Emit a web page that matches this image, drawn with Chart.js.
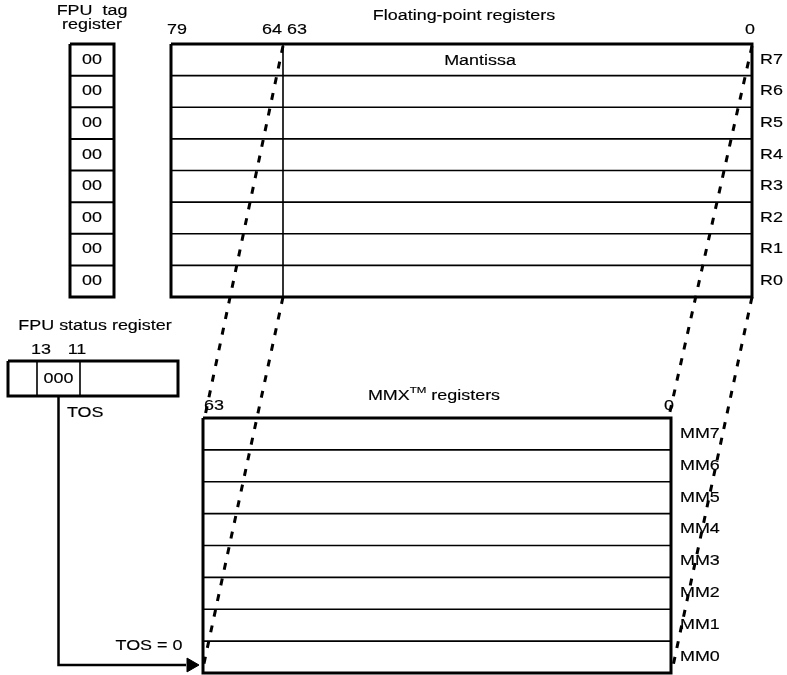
<!DOCTYPE html>
<html lang="en">
  <head>
    <meta charset="UTF-8" />
    <title>FPU / MMX register aliasing</title>
    <script src="https://cdn.jsdelivr.net/npm/chart.js"></script>
    <style>
      body {
        margin: 0;
        background: #fff;
      }
    </style>
  </head>
  <body>
    <canvas id="regChart" width="787" height="675"></canvas>

    <script>
      // Register contents and labels
      var tagValues = ["00", "00", "00", "00", "00", "00", "00", "00"];
      var fpRegisters = ["R7", "R6", "R5", "R4", "R3", "R2", "R1", "R0"];
      var mmxRegisters = ["MM7", "MM6", "MM5", "MM4", "MM3", "MM2", "MM1", "MM0"];
      var fpBits = ["79", "64", "63", "0"];
      var mmxBits = ["63", "0"];
      var statusBits = ["13", "11"];
      var tosValue = "000";

      // Layout of the boxes (canvas units)
      var TAG = { x0: 70, x1: 114, y0: 44, y1: 297 };
      var FP = { x0: 171, x1: 752, y0: 44, y1: 297, split: 283 };
      var MMX = { x0: 203, x1: 671, y0: 418, y1: 673 };
      var ST = { x0: 8, x1: 178, y0: 361, y1: 396, d1: 37, d2: 80 };

      function seg(pts, w, dash) {
        return {
          data: pts.map(function (p) { return { x: p[0], y: p[1] }; }),
          showLine: true,
          borderColor: "#000",
          borderWidth: w,
          borderDash: dash || [],
          pointRadius: 0,
          fill: false,
          tension: 0,
          clip: false,
        };
      }
      function rect(b, w) {
        return seg([[b.x0, b.y0], [b.x1, b.y0], [b.x1, b.y1], [b.x0, b.y1], [b.x0, b.y0]], w);
      }
      function rowY(b, n, i) {
        return b.y0 + (i * (b.y1 - b.y0)) / n;
      }

      var datasets = [];
      // tag register
      datasets.push(rect(TAG, 3));
      for (var i = 1; i < tagValues.length; i++) {
        var y = rowY(TAG, tagValues.length, i);
        datasets.push(seg([[TAG.x0, y], [TAG.x1, y]], 2));
      }
      // floating-point registers
      datasets.push(rect(FP, 3));
      for (var i = 1; i < fpRegisters.length; i++) {
        var y = rowY(FP, fpRegisters.length, i);
        datasets.push(seg([[FP.x0, y], [FP.x1, y]], 1.6));
      }
      datasets.push(seg([[FP.split, FP.y0], [FP.split, FP.y1]], 1.6));
      // MMX registers
      datasets.push(rect(MMX, 3));
      for (var i = 1; i < mmxRegisters.length; i++) {
        var y = rowY(MMX, mmxRegisters.length, i);
        datasets.push(seg([[MMX.x0, y], [MMX.x1, y]], 1.6));
      }
      // status register
      datasets.push(rect(ST, 3));
      datasets.push(seg([[ST.d1, ST.y0], [ST.d1, ST.y1]], 1.6));
      datasets.push(seg([[ST.d2, ST.y0], [ST.d2, ST.y1]], 1.6));
      // TOS pointer
      var tosX = (ST.d1 + ST.d2) / 2;
      datasets.push(seg([[tosX, ST.y1], [tosX, 665], [186, 665]], 2.5));
      datasets.push({
        data: [{ x: 191, y: 665 }],
        pointStyle: "triangle",
        rotation: 90,
        pointRadius: 8,
        backgroundColor: "#000",
        borderColor: "#000",
        showLine: false,
        clip: false,
      });
      // dashed aliasing lines
      var dash = [7, 9];
      datasets.push(seg([[FP.split, FP.y0 + 2], [MMX.x0 + 2, MMX.y0 - 2]], 3, dash));
      datasets.push(seg([[FP.split, FP.y1], [MMX.x0, 668]], 3, dash));
      datasets.push(seg([[FP.x1, FP.y0 + 2], [MMX.x1 - 2, MMX.y0 - 2]], 3, dash));
      datasets.push(seg([[FP.x1, FP.y1], [MMX.x1 + 2, 666]], 3, dash));

      var FONT = '"Liberation Sans", Arial, sans-serif';
      var STRETCH = 1.28; // scanned lettering is wider than Arial

      var textPlugin = {
        id: "texts",
        afterDatasetsDraw: function (chart) {
          var c = chart.ctx;
          var sx = chart.scales.x, sy = chart.scales.y;
          function t(s, x, y, align, size) {
            c.save();
            c.font = (size || 14) + "px " + FONT;
            c.textAlign = align || "center";
            c.textBaseline = "middle";
            c.fillStyle = "#000";
            c.strokeStyle = "#000";
            c.lineWidth = 0.15;
            c.translate(sx.getPixelForValue(x), sy.getPixelForValue(y));
            c.scale(STRETCH, 1);
            c.fillText(s, 0, 0);
            c.strokeText(s, 0, 0);
            c.restore();
          }
          function w(s, size) {
            c.font = (size || 14) + "px " + FONT;
            return c.measureText(s).width * STRETCH;
          }
          t("FPU  tag", 92, 11);
          t("register", 92, 25);
          t(fpBits[0], 177, 30);
          t(fpBits[1], 272, 30);
          t(fpBits[2], 297, 30);
          t(fpBits[3], 750, 30);
          t("Floating-point registers", 464, 16);
          t("Mantissa", 480, 61);
          for (var i = 0; i < fpRegisters.length; i++) {
            var yc = (rowY(FP, 8, i) + rowY(FP, 8, i + 1)) / 2;
            t(fpRegisters[i], 760, yc, "left");
            t(tagValues[i], (TAG.x0 + TAG.x1) / 2, yc);
          }
          t("FPU status register", 95, 326);
          t(statusBits[0], 41, 350);
          t(statusBits[1], 77, 350);
          t(tosValue, tosX, 379);
          t("TOS", 67, 413, "left");
          t("TOS = 0", 149, 646);
          t(mmxBits[0], 214, 406);
          t(mmxBits[1], 669, 406);
          // MMX(TM) registers
          var w1 = w("MMX"), w2 = w("TM", 9), w3 = w(" registers");
          var x0 = 434 - (w1 + w2 + w3) / 2;
          t("MMX", x0, 396, "left");
          t("TM", x0 + w1, 391, "left", 9);
          t(" registers", x0 + w1 + w2, 396, "left");
          for (var i = 0; i < mmxRegisters.length; i++) {
            var yc = (rowY(MMX, 8, i) + rowY(MMX, 8, i + 1)) / 2;
            t(mmxRegisters[i], 680, yc, "left");
          }
        },
      };

      new Chart(document.getElementById("regChart"), {
        type: "scatter",
        data: { datasets: datasets },
        options: {
          responsive: false,
          animation: false,
          devicePixelRatio: 1,
          layout: { padding: 0, autoPadding: false },
          scales: {
            x: { type: "linear", min: 0, max: 787, display: false },
            y: { type: "linear", min: 0, max: 675, reverse: true, display: false },
          },
          plugins: { legend: { display: false }, tooltip: { enabled: false } },
          events: [],
        },
        plugins: [textPlugin],
      });
    </script>
  </body>
</html>
